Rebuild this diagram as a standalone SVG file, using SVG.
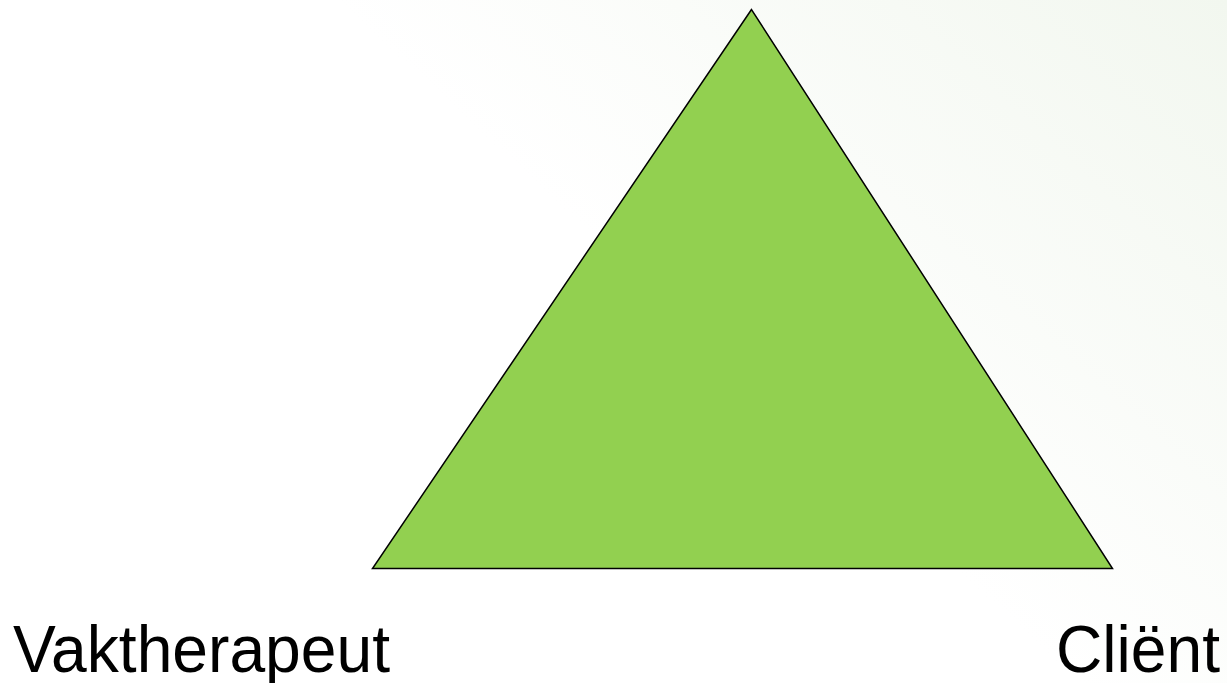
<svg xmlns="http://www.w3.org/2000/svg" width="1227" height="683" viewBox="0 0 1227 683">
<defs>
<linearGradient id="bg" x1="1227" y1="0" x2="600" y2="683" gradientUnits="userSpaceOnUse">
<stop offset="0" stop-color="#f2f7ef"/>
<stop offset="0.65" stop-color="#ffffff"/>
</linearGradient>
<style>
.lbl{font-family:"Liberation Sans",Arial,sans-serif;font-size:67px;fill:#000}
</style>
</defs>
<rect width="1227" height="683" fill="url(#bg)"/>
<g id="triangle">
<polygon points="751.5,9.5 372.5,568.5 1112.5,568.5" fill="#92d050" stroke="#000" stroke-width="1.5" stroke-linejoin="miter"/>
</g>
<g id="connectors"/>
<g id="label-vaktherapeut"><text class="lbl" x="13" y="672" textLength="377" lengthAdjust="spacingAndGlyphs">Vaktherapeut</text></g>
<g id="label-client"><text class="lbl" x="1056" y="672" textLength="164" lengthAdjust="spacingAndGlyphs">Cliënt</text></g>
</svg>
